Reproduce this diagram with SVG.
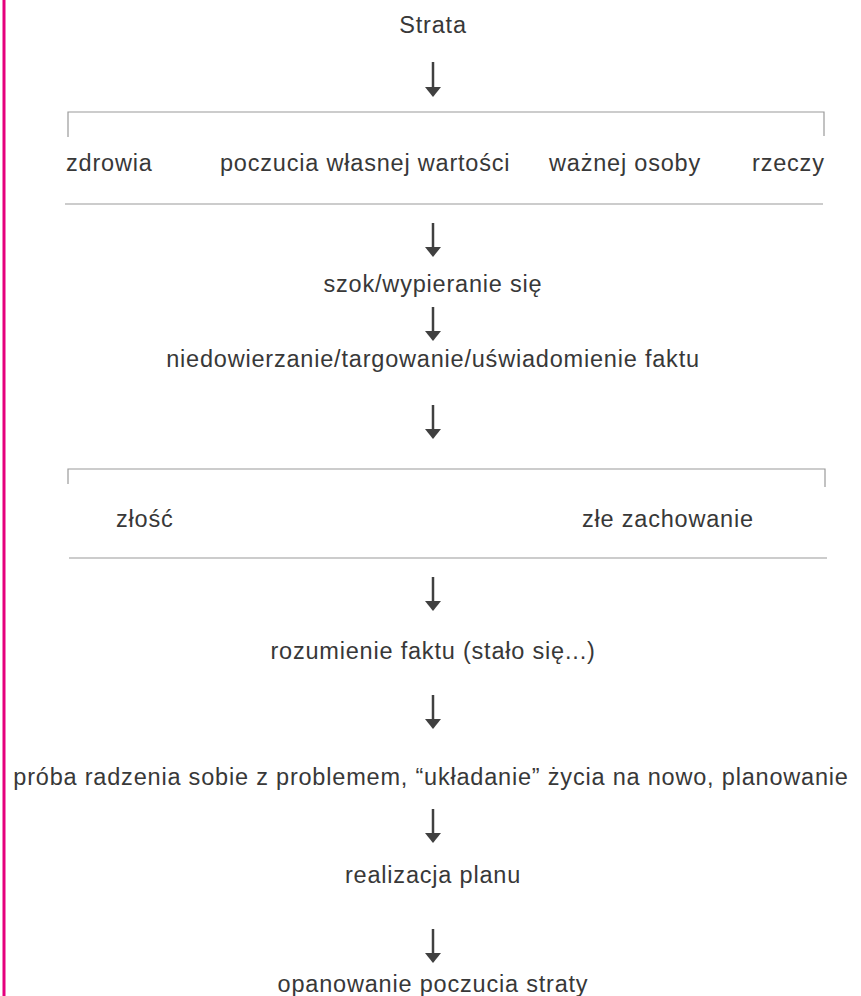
<svg xmlns="http://www.w3.org/2000/svg" width="861" height="996" viewBox="0 0 861 996">
<style>
text{font-family:"Liberation Sans",Arial,sans-serif;font-size:23.5px;fill:#383838;letter-spacing:0.8px}
.c{text-anchor:middle}
.br{fill:none;stroke:#9a9a9a;stroke-width:1.2}
.sh{stroke:#404040;stroke-width:2.5}
.hd{fill:#404040}
</style>
<rect x="2.5" y="0" width="3" height="996" fill="#e5007d"/>
<g id="connectors">
<g><line class="sh" x1="433" y1="62" x2="433" y2="88"/><polygon class="hd" points="425,87 441,87 433,97"/></g>
<g><line class="sh" x1="433" y1="223" x2="433" y2="248"/><polygon class="hd" points="425,247 441,247 433,257"/></g>
<g><line class="sh" x1="433" y1="307" x2="433" y2="332"/><polygon class="hd" points="425,331 441,331 433,341"/></g>
<g><line class="sh" x1="433" y1="405" x2="433" y2="430"/><polygon class="hd" points="425,429 441,429 433,439"/></g>
<g><line class="sh" x1="433" y1="577" x2="433" y2="602"/><polygon class="hd" points="425,601 441,601 433,611"/></g>
<g><line class="sh" x1="433" y1="695" x2="433" y2="720"/><polygon class="hd" points="425,719 441,719 433,729"/></g>
<g><line class="sh" x1="433" y1="809" x2="433" y2="834"/><polygon class="hd" points="425,833 441,833 433,843"/></g>
<g><line class="sh" x1="433" y1="929" x2="433" y2="954"/><polygon class="hd" points="425,953 441,953 433,963"/></g>
</g>
<g id="bracket1">
<polyline class="br" points="68,137 68,112 824,112 824,136"/>
<line class="br" x1="65" y1="204" x2="823" y2="204"/>
</g>
<g id="bracket2">
<polyline class="br" points="68,484 68,469 825,469 825,487"/>
<line class="br" x1="69" y1="558" x2="827" y2="558"/>
</g>
<g id="strata"><text class="c" x="433" y="33">Strata</text></g>
<g id="zdrowia"><text x="66" y="171">zdrowia</text></g>
<g id="poczucia"><text x="220" y="171">poczucia własnej wartości</text></g>
<g id="osoby"><text x="549" y="171">ważnej osoby</text></g>
<g id="rzeczy"><text x="752" y="171">rzeczy</text></g>
<g id="szok"><text class="c" x="433" y="292">szok/wypieranie się</text></g>
<g id="niedowierzanie"><text class="c" x="433" y="367">niedowierzanie/targowanie/uświadomienie faktu</text></g>
<g id="zlosc"><text x="116" y="527">złość</text></g>
<g id="zachowanie"><text x="582" y="527">złe zachowanie</text></g>
<g id="rozumienie"><text class="c" x="433" y="659">rozumienie faktu (stało się...)</text></g>
<g id="proba"><text class="c" x="431" y="785">próba radzenia sobie z problemem, “układanie” życia na nowo, planowanie</text></g>
<g id="realizacja"><text class="c" x="433" y="883">realizacja planu</text></g>
<g id="opanowanie"><text class="c" x="433" y="992">opanowanie poczucia straty</text></g>
</svg>
